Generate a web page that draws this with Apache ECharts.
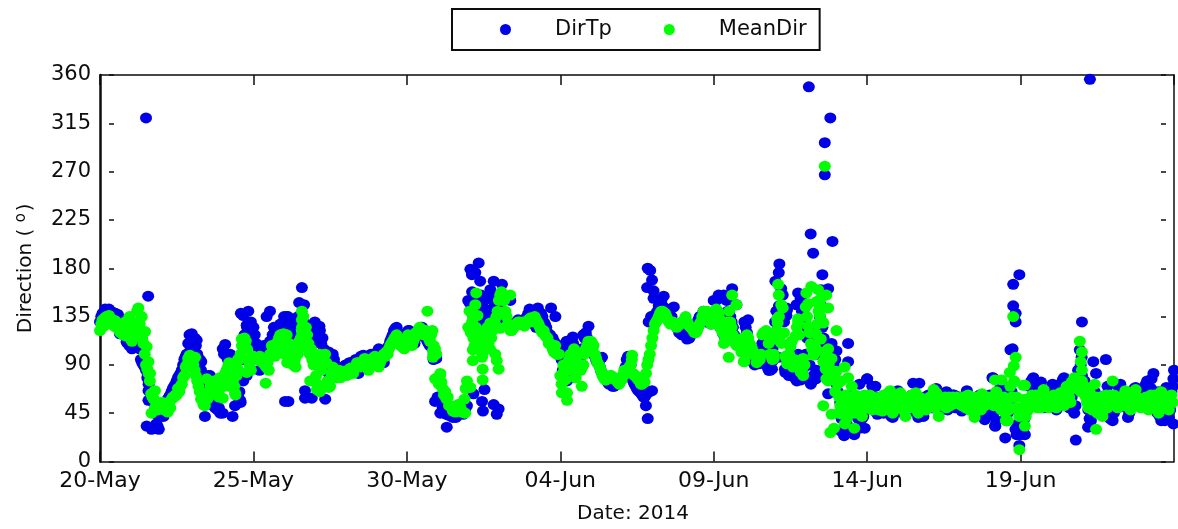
<!DOCTYPE html>
<html><head><meta charset="utf-8">
<script src="https://cdn.jsdelivr.net/npm/echarts@6/dist/echarts.min.js"></script>
<style>html,body{margin:0;padding:0;background:#fff}#c{width:1178px;height:529px}</style></head>
<body><div id="c"></div>
<script>
const tickLabels=['20-May','25-May','30-May','04-Jun','09-Jun','14-Jun','19-Jun',''];
// even-hour readings, blocks of five days, in degrees
const dirTp1=[130,138,142,141,140,139,138,137,133,132,130,118,
 108,106,112,120,95,90,85,72,62,55,35,30,
 45,50,55,60,65,70,75,80,85,95,100,118,
 110,115,100,95,80,70,75,80,60,50,48,45,
 105,100,95,88,85,90,60,55,75,115,140,130];
const dirTp2=[125,110,105,103,108,95,108,110,125,120,120,118,
 135,135,120,110,133,133,135,125,120,125,125,115,
 125,125,122,115,100,88,85,100,90,85,82,80,
 90,90,92,88,95,88,98,99,97,95,100,96,
 100,105,100,92,105,108,115,122,125,118,112,110];
const dirTp3=[120,122,113,110,118,122,125,118,112,108,105,100,
 60,57,50,45,44,44,41,42,46,48,44,50,
 150,140,135,130,145,155,150,140,120,135,130,145,
 150,140,132,128,125,125,128,130,130,128,132,135,
 142,140,128,125,135,135,128,120,118,115,110,108];
const dirTp4=[100,85,110,112,95,110,105,90,100,118,120,110,
 108,100,95,92,84,80,76,72,72,70,72,73,
 78,80,95,95,78,72,68,65,62,60,66,65,
 130,136,140,150,145,140,135,142,130,128,125,122,
 125,118,115,118,122,125,132,135,140,130,135,128];
const dirTp5=[150,150,130,125,118,150,140,130,118,115,112,110,
 130,120,105,95,90,95,100,110,95,88,85,105,
 130,120,135,155,83,95,110,83,77,100,152,141,
 100,125,72,80,77,125,145,115,99,89,107,89,
 72,62,40,45,35,55,60,50,45,72,40,50];
const dirTp6=[77,50,70,60,44,55,48,62,52,45,41,50,
 66,58,45,48,52,55,73,60,41,48,42,60,
 62,55,50,68,60,48,55,65,50,58,62,55,
 60,47,55,66,58,50,55,45,62,50,39,56,
 62,78,33,50,68,60,40,45,70,60,30,35];
const dirTp7=[25,30,45,55,74,78,70,65,74,50,55,60,
 68,62,48,70,55,78,72,50,60,45,75,80,
 80,75,60,40,70,65,50,45,60,55,70,40,
 38,60,50,72,58,62,41,55,65,69,55,60,
 60,72,70,68,50,60,65,38,55,69,40,65];
// odd-hour readings
const dirTpOdd1=[135,135,140,142,137,135,132,128,125,122,112,108,
 105,110,118,105,92,88,78,65,60,48,33,42,
 48,52,58,62,68,72,78,82,90,98,110,105,
 105,108,90,85,75,68,80,65,55,55,50,70,
 100,98,90,85,88,78,65,95,118,125,125,125];
const dirTpOdd2=[118,108,104,105,100,105,112,118,122,125,128,125,
 130,135,125,118,130,135,130,130,118,122,118,110,
 122,118,110,105,92,82,90,95,88,84,80,85,
 88,92,88,90,92,96,98,96,95,98,98,100,
 102,100,96,98,106,112,118,124,120,115,110,115];
const dirTpOdd3=[122,118,110,115,120,125,120,115,110,108,100,96,
 58,55,48,44,43,42,42,44,47,46,46,52,
 148,158,140,150,150,145,135,130,140,150,145,155,
 148,138,130,126,124,126,128,132,128,130,133,138,
 140,135,125,130,138,130,125,118,115,112,108,105];
const dirTpOdd4=[95,80,112,105,100,105,98,95,105,115,115,108,
 105,98,92,88,82,78,74,72,70,72,72,75,
 80,88,98,90,75,70,66,64,60,62,65,135,
 135,138,145,150,142,138,138,135,128,125,120,118,
 122,116,115,120,124,128,135,130,135,132,130,130];
const dirTpOdd5=[150,140,125,120,115,140,135,125,115,112,108,112,
 125,110,100,92,92,98,105,102,92,85,95,115,
 140,145,155,130,95,88,100,85,75,120,140,130,
 115,90,75,78,100,135,125,105,92,98,100,95,
 65,55,42,40,30,62,50,45,40,60,42,52];
const dirTpOdd6=[58,62,52,46,50,58,45,55,48,42,45,55,
 60,48,50,45,58,62,55,45,46,52,60,50,
 58,50,60,62,52,50,62,48,55,62,50,58,
 52,55,62,60,50,48,58,50,55,45,42,50,
 60,45,38,60,62,48,38,50,65,50,28,30];
const dirTpOdd7=[30,40,55,70,76,72,68,72,60,55,62,65,
 72,58,65,72,76,70,55,62,68,52,85,90,
 75,65,48,38,62,55,48,52,58,62,60,45,
 45,55,68,62,60,50,45,60,68,62,58,65,
 68,75,65,55,60,45,42,50,65,62,48,70];
const meanDir1=[122,132,134,130,133,132,131,125,120,118,117,128,
 116,118,125,130,120,110,90,82,63,58,55,52,
 50,48,52,55,58,60,62,65,72,80,90,98,
 95,85,75,65,60,52,58,62,70,72,65,68,
 70,82,88,90,75,62,85,100,112,112,95,85];
const meanDir2=[98,96,97,96,92,88,85,98,105,100,115,112,
 100,118,110,95,92,100,112,125,115,118,100,95,
 75,72,65,92,100,75,70,88,85,82,78,80,
 84,85,87,82,88,92,90,92,94,85,93,96,
 96,88,95,100,102,105,110,114,118,110,108,105];
const meanDir3=[115,112,108,115,118,125,123,118,120,112,122,105,
 78,80,68,65,60,52,47,46,53,50,46,68,
 125,120,115,125,118,110,105,112,120,115,130,135,
 150,158,150,135,125,122,125,128,130,128,126,130,
 130,132,135,130,125,120,118,115,110,105,108,100];
const meanDir4=[80,80,76,92,100,95,98,100,85,90,105,112,
 112,108,96,90,84,78,76,78,80,78,76,72,
 76,85,82,88,95,80,78,75,72,74,90,100,
 115,128,132,138,140,138,132,128,130,128,126,128,
 130,135,128,125,122,120,125,130,140,135,132,128];
const meanDir5=[135,142,138,128,110,130,140,125,115,108,112,105,
 93,118,110,105,100,96,95,118,120,118,100,95,
 114,129,117,143,98,93,107,88,117,130,90,80,
 144,126,110,99,119,140,152,102,88,91,83,84,
 84,60,48,58,40,52,70,45,60,50,42,62];
const meanDir6=[50,62,48,58,52,60,47,62,50,66,45,58,
 50,64,48,42,55,60,58,64,45,50,55,48,
 52,60,67,64,42,58,55,50,60,55,58,60,
 58,52,60,55,48,58,41,50,55,63,52,60,
 55,60,76,62,50,58,45,38,70,60,50,50];
const meanDir7=[45,71,42,48,60,55,62,52,50,67,58,50,
 55,62,50,58,64,52,70,60,74,78,70,75,
 75,70,55,65,48,72,45,60,42,58,50,62,
 75,58,50,60,52,66,55,48,60,67,55,50,
 55,60,48,62,50,58,45,65,52,60,48,62];
const meanDirOdd1=[128,126,135,136,128,126,125,122,125,122,120,135,
 112,122,140,128,115,100,86,75,60,50,48,55,
 55,50,46,50,60,62,68,70,78,88,96,92,
 90,80,70,58,55,60,65,72,75,68,60,75,
 76,85,92,80,70,88,95,108,115,105,90,95];
const meanDirOdd2=[95,95,98,92,90,92,100,102,108,110,118,105,
 110,98,105,90,88,108,115,135,125,110,105,90,
 80,68,85,98,92,70,82,80,78,85,80,84,
 80,84,84,88,92,88,92,96,90,90,96,98,
 92,92,98,98,100,108,112,116,112,108,106,112];
const meanDirOdd3=[118,110,112,120,122,120,118,122,115,118,108,100,
 72,74,62,58,52,50,48,48,50,46,58,75,
 140,130,108,120,112,100,118,125,105,122,128,140,
 155,150,140,128,122,125,128,130,128,130,128,132,
 134,130,132,128,122,122,116,110,108,102,100,100];
const meanDirOdd4=[72,85,85,95,96,100,92,90,88,100,108,110,
 110,100,92,88,80,76,78,80,78,76,74,78,
 80,84,85,90,82,80,76,72,76,82,95,108,
 122,130,135,140,138,135,130,130,128,125,128,130,
 132,130,126,124,120,122,128,135,138,140,130,132];
const meanDirOdd5=[138,140,132,120,115,125,130,118,112,110,108,115,
 105,115,108,102,98,94,100,120,122,110,98,96,
 122,135,110,120,96,100,112,95,125,118,85,90,
 135,120,105,108,128,145,130,95,90,86,78,65,
 72,52,44,62,50,60,55,62,48,58,52,55];
const meanDirOdd6=[55,52,60,54,48,56,62,52,58,48,56,62,
 56,52,60,56,50,62,52,48,60,58,52,54,
 60,54,50,58,54,52,60,56,52,60,54,56,
 54,60,50,62,56,46,60,52,48,58,56,54,
 60,52,65,56,48,60,52,48,60,75,60,42];
const meanDirOdd7=[50,58,48,52,62,58,50,60,56,62,52,58,
 60,52,58,64,56,60,65,55,68,70,75,65,
 68,60,50,58,55,60,52,56,48,62,58,55,
 62,52,58,55,62,60,50,56,64,60,52,58,
 58,52,60,55,62,48,58,60,55,50,58,55];
// readings that share a time with another, [day offset, degrees]
const dirTpExtra=[[1.5,320],[1.57,154],[1.52,33],[1.68,30],[1.58,66],[1.58,57],[1.03,108],[.87,111],[.65,119],[1.2,110],[1.85,44],[2.07,42],[2.99,119],[3.15,113],[3.3,93],[2.83,100],[3.42,42],[3.7,52],[4,45],[4.32,42],[4.4,52],[4.57,57],[4.08,109],[4.24,100],[4.59,138],[4.67,136],[4.78,127],[5.2,85],[4.78,80],[5.54,140],[5.43,135],[6.03,56],[6.14,56],[6.58,162],[6.49,148],[6.65,146],[6.68,66],[6.68,59],[6.9,59],[7,130],[7.15,126],[7.17,116],[7.34,58],[7.45,102],[8.42,82],
[10.87,95],[11.3,32],[11.6,41],[10.92,56],[11.09,45],[12.12,174],[12.34,185],[12.23,176],[12.07,179],[12.39,168],[12.72,160],[12.83,168],[13.1,165],[12.66,152],[12.72,141],[13.37,150],[12.53,67],[12.45,56],[12.48,47],[12.17,63],[12.83,53],[12.93,44],[12.99,49],[12.5,125],[14.27,143],[14.7,143],[14.84,135],[15.22,75],[15.41,116],[15.92,126],[16.36,97],[17.85,40],[17.79,52],[17.99,66],[17.66,64],[17.85,180],[17.93,178],[17.99,169],[17.83,162],[18.04,159],[18.04,152],[17.88,130],[18.37,154],[18.7,144],[19.13,114],[20.16,155],[20.33,155],[20.6,161],[20.74,146],[21.12,132],[21.47,91],[21.9,86],[21.9,93],
[22.14,184],[22.12,176],[22.01,168],[22.39,141],[22.39,85],[22.45,80],[22.2,161],[22.75,157],[22.7,146],[22.37,143],[22.37,136],[22.1,97],[22.32,86],[22.51,82],[22.84,76],[22.91,86],[23.1,349],[23.8,320],[23.62,297],[23.62,267],[23.16,212],[23.24,194],[23.87,205],[23.54,174],[23.73,161],[23.5,160],[23.84,110],[24,103],[23.35,85],[23.42,82],[23.57,110],[23.3,110],[24.38,110],[24.38,93],[24.25,24],[24.58,25],[24.92,31],[24.76,31],[23.73,63],[24.16,28],
[26.7,73],[25,77],[25.27,70],[29.1,78],[29.5,22],[29.18,33],[29.87,25],[29.96,15],[29.76,165],[29.96,174],[29.76,145],[29.84,138],[29.84,130],[29.74,105],[29.67,104],[30.14,25],[32,130],[31.93,104],[31.99,97],[31.8,20],[32.37,93],[32.46,82],[32.78,95],[32.2,32],[32.26,356],[34.33,82],[34.27,77],[35,85],[34.98,77],[34.9,69],[34.98,35],[34.7,38]];
const meanDirExtra=[[1.25,143],[1.36,135],[1.47,121],[1.52,107],[1.58,93],[1.63,82],[1.68,45],[1.79,66],[.82,130],[1.03,113],[2.93,99],[3.1,97],[3.37,53],[3.48,77],[4,59],[4.4,64],[4.62,114],[4.78,83],[5.4,73],[5.98,119],[6.58,140],[6.58,132],[6.58,121],[6.63,107],[7.07,67],[6.85,75],[7.45,69],[7.15,100],
[5.6,108],[5.8,112],[6,105],[6.2,108],[6.35,95],[6.45,100],[5.7,98],[6.1,92],[6.3,90],[3.6,70],[3.8,62],[4.1,75],[4.3,85],[3.9,78],[4.2,70],[4.45,80],[4.5,95],[15.5,78],[15.6,88],[15.7,70],[15.3,85],[15.1,90],[15.45,105],[20.2,125],[20.4,118],[20.7,110],[20.9,102],[21.2,100],[21.4,92],
[10.67,140],[10.85,97],[10.85,103],[10.92,77],[11.09,82],[12.07,69],[11.9,45],[12.12,138],[12.23,146],[12.26,157],[12.3,136],[12.15,104],[12.15,94],[12.45,97],[12.47,86],[12.47,76],[12.39,121],[12.53,107],[12.72,129],[12.66,110],[12.72,116],[12.88,100],[12.99,86],[12.93,94],[13.04,124],[13.15,155],[13.37,155],[13.2,138],[15.05,64],[15.22,64],[15.22,57],[17.34,99],[20.49,97],[20.98,93],[20.6,155],[20.74,146],[22.1,165],[22.12,155],[22.2,146],[22.07,133],[21.96,100],[22.39,91],
[23.62,275],[23.18,163],[23.02,157],[23.4,160],[23.67,155],[23.73,143],[23.08,147],[23.35,149],[23.46,136],[22.75,133],[23.57,129],[24,122],[22.42,93],[22.84,83],[22.91,96],[23.49,114],[23.73,105],[23.35,104],[23.84,96],[23.57,93],[23.65,86],[24.27,88],[23.73,75],[23.89,82],[23.57,52],[23.67,77],[24.16,75],[24.38,78],[23.8,27],[23.92,31],[24.58,31],[24.27,35],[23.84,44],[24.05,45],
[29.76,135],[29.96,11],[29.84,97],[29.78,89],[29.65,83],[29.38,76],[29.52,38],[30.14,71],[30.14,33],[31.93,112],[32,102],[31.96,93],[32,85],[32.46,30]];

const pairs=(even,odd,extra)=>even.flat().map((v,i)=>[i/12,v])
 .concat(odd.flat().map((v,i)=>[(i+.5)/12,v])).concat(extra);
const seriesTp=pairs([dirTp1,dirTp2,dirTp3,dirTp4,dirTp5,dirTp6,dirTp7],[dirTpOdd1,dirTpOdd2,dirTpOdd3,dirTpOdd4,dirTpOdd5,dirTpOdd6,dirTpOdd7],dirTpExtra);
const seriesMean=pairs([meanDir1,meanDir2,meanDir3,meanDir4,meanDir5,meanDir6,meanDir7],[meanDirOdd1,meanDirOdd2,meanDirOdd3,meanDirOdd4,meanDirOdd5,meanDirOdd6,meanDirOdd7],meanDirExtra);

const FONT='"DejaVu Sans"',INK='#0d0d0d';
const xBase={type:'value',min:0,max:35,interval:5,splitLine:{show:false}};
const yBase={type:'value',min:0,max:360,interval:45,splitLine:{show:false}};
const chart=echarts.init(document.getElementById('c'),null,{renderer:'canvas'});
chart.setOption({
 animation:false,backgroundColor:'#fff',
 grid:{left:100,right:4,top:75,bottom:67.5},
 legend:{left:452,top:9,padding:[10,13,10,48],itemWidth:11,itemHeight:11,itemGap:52,
  borderColor:INK,borderWidth:2,borderRadius:0,
  textStyle:{fontFamily:FONT,fontSize:21,color:INK,padding:[0,0,0,39]},
  data:[{name:'DirTp',icon:'circle'},{name:'MeanDir',icon:'circle'}]},
 xAxis:[
  {...xBase,position:'bottom',name:'Date: 2014',nameLocation:'middle',nameGap:42,
   nameTextStyle:{fontFamily:FONT,fontSize:20,color:INK,padding:[0,8,0,0]},
   axisLine:{show:true,onZero:false,lineStyle:{color:INK,width:1.5}},
   axisTick:{show:true,inside:true,length:10,lineStyle:{color:INK,width:1.5}},
   axisLabel:{fontFamily:FONT,fontSize:22,color:INK,margin:9,hideOverlap:false,showMaxLabel:false,formatter:v=>tickLabels[v/5]||''}},
  {...xBase,position:'top',axisLine:{show:true,onZero:false,lineStyle:{color:INK,width:1.5}},
   axisTick:{show:true,inside:true,length:10,lineStyle:{color:INK,width:1.5}},axisLabel:{show:false}}
 ],
 yAxis:[
  {...yBase,position:'left',name:'{a|Direction ( }{b|o}{a|)}',nameLocation:'middle',nameGap:63,nameRotate:90,
   nameTextStyle:{rich:{a:{fontFamily:FONT,fontSize:20,color:INK},b:{fontFamily:FONT,fontSize:15,color:INK,verticalAlign:'bottom',padding:[0,2,8,0]}}},
   axisLine:{show:true,onZero:false,lineStyle:{color:INK,width:2.5}},
   axisTick:{show:true,inside:true,length:14,lineStyle:{color:INK,width:1.5,type:[0,9,5,20]}},
   axisLabel:{fontFamily:FONT,fontSize:21,color:INK,margin:9,padding:[4,0,0,0],formatter:v=>String(v)}},
  {...yBase,position:'right',axisLine:{show:true,onZero:false,lineStyle:{color:INK,width:1.5}},
   axisTick:{show:true,inside:true,length:13,lineStyle:{color:INK,width:1.5,type:[0,8,5,20]}},axisLabel:{show:false}}
 ],
 series:[
  {name:'DirTp',type:'scatter',data:seriesTp,symbol:'circle',symbolSize:[12,11],itemStyle:{color:'#0000e8',opacity:1},clip:false,z:2},
  {name:'MeanDir',type:'scatter',data:seriesMean,symbol:'circle',symbolSize:[12,11],itemStyle:{color:'#00ff00',opacity:1},clip:false,z:3}
 ]
});
</script></body></html>
